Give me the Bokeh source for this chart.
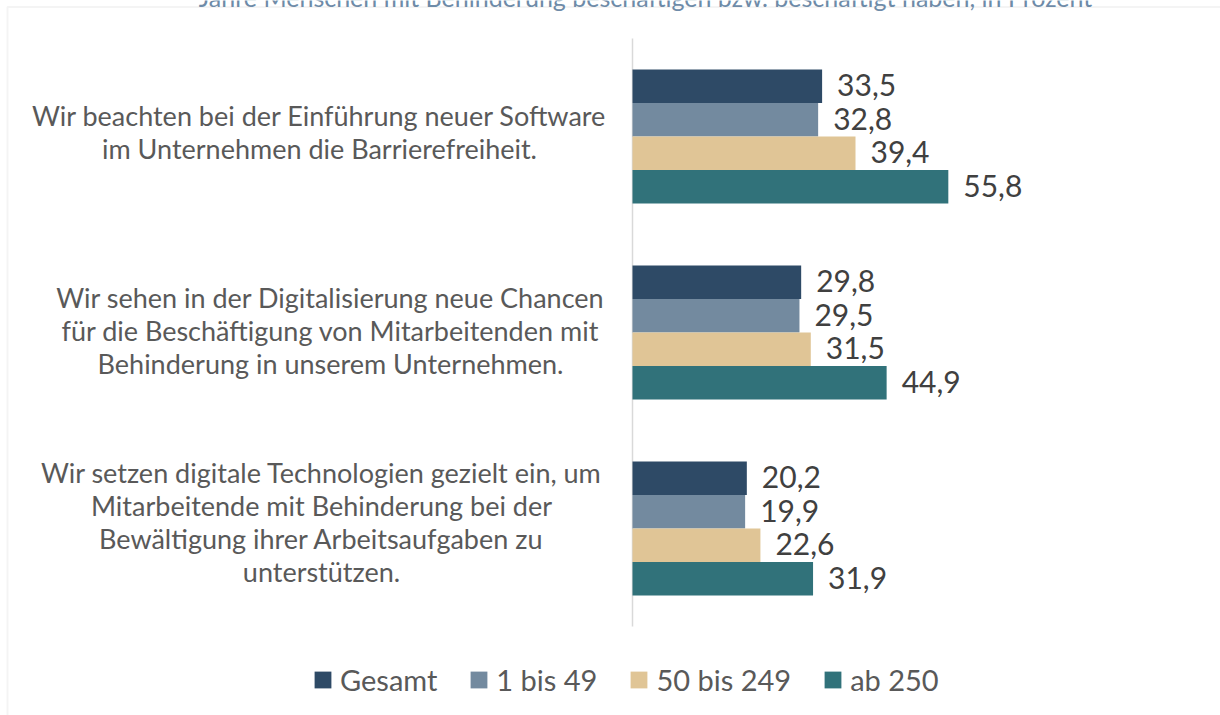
from bokeh.plotting import figure
from bokeh.models import (Range1d, ColumnDataSource, LabelSet, Label, Legend,
                          LegendItem, BoxAnnotation)
from bokeh.embed import file_html
from bokeh.resources import INLINE
from bokeh.core.properties import value

# ---------------- data ----------------
categories = [
    "Wir beachten bei der Einführung neuer Software\nim Unternehmen die Barrierefreiheit.",
    "Wir sehen in der Digitalisierung neue Chancen\nfür die Beschäftigung von Mitarbeitenden mit\nBehinderung in unserem Unternehmen.",
    "Wir setzen digitale Technologien gezielt ein, um\nMitarbeitende mit Behinderung bei der\nBewältigung ihrer Arbeitsaufgaben zu\nunterstützen.",
]
series_names = ["Gesamt", "1 bis 49", "50 bis 249", "ab 250"]
gesamt = [33.5, 29.8, 20.2]
bis_49 = [32.8, 29.5, 19.9]
bis_249 = [39.4, 31.5, 22.6]
ab_250 = [55.8, 44.9, 31.9]
title_text = "Jahre Menschen mit Behinderung beschäftigen bzw. beschäftigt haben, in Prozent"

# ---------------- style / layout ----------------
W, H = 1220, 715
colors = ["#2E4A66", "#738A9F", "#E0C596", "#31727A"]
FONT = "Lato"
PX_PER_UNIT = 5.66      # horizontal scale
ZERO_X = 632            # canvas x of value 0
BAND = 196              # px per category band
TOP_PAD, BOTTOM_PAD = 38, 89
offsets = [0.2565, 0.0855, -0.0855, -0.2565]
bar_h = 0.171
label_cx = [319, 330, 321]
label_dy = [5, 2.5, 7]

n = len(categories)
p = figure(width=W, height=H, output_backend="svg", toolbar_location=None,
           x_axis_location=None, y_axis_location=None,
           x_range=Range1d(-ZERO_X / PX_PER_UNIT, (W - ZERO_X) / PX_PER_UNIT),
           y_range=Range1d(-BOTTOM_PAD / BAND, n + TOP_PAD / BAND),
           min_border=0, outline_line_color=None)
p.xgrid.visible = False
p.ygrid.visible = False

# value axis line (category axis at x = 0)
p.segment(x0=[0], y0=[0], x1=[0], y1=[n], line_color="#D9D9D9", line_width=1.5)

centers = [n - 0.5 - i for i in range(n)]
series = [gesamt, bis_49, bis_249, ab_250]

items = []
for name, vals, col, off in zip(series_names, series, colors, offsets):
    src = ColumnDataSource(dict(
        y=[c + off for c in centers], v=vals,
        lbl=[f"{v:.1f}".replace(".", ",") for v in vals]))
    r = p.hbar(y="y", left=0, right="v", height=bar_h, source=src,
               fill_color=col, line_color=None)
    p.add_layout(LabelSet(x="v", y="y", text="lbl", source=src, x_offset=15,
                          y_offset=1, text_baseline="middle",
                          text_font=value(FONT), text_font_size="30px",
                          text_color="#404040"))
    items.append(LegendItem(label=name, renderers=[r]))

for cat, c, cx, dy in zip(categories, centers, label_cx, label_dy):
    p.add_layout(Label(x=cx, y=c, x_units="canvas", y_units="data", text=cat,
                       y_offset=dy, text_align="center", text_baseline="middle",
                       text_font=FONT, text_font_size="27px",
                       text_line_height=1.0, text_color="#595959"))

legend = Legend(items=items, orientation="horizontal", location=(312, 18),
                glyph_width=21, glyph_height=21, label_standoff=7, spacing=31,
                padding=0, margin=0, border_line_color=None,
                background_fill_alpha=0, label_text_font=FONT,
                label_text_font_size="29px", label_text_color="#595959")
p.add_layout(legend, "center")

p.add_layout(BoxAnnotation(left=7, right=1250, top=6.5, bottom=760,
                           left_units="canvas", right_units="canvas",
                           top_units="canvas", bottom_units="canvas",
                           fill_alpha=0, line_color="#D9D9D9", line_width=2))

p.add_layout(Label(x=645, y=-4, x_units="canvas", y_units="canvas", text=title_text,
                   text_align="center", text_baseline="alphabetic",
                   text_font=FONT, text_font_size="25px",
                   text_color="#6E8BA8"))

open("out.html", "w").write(file_html(p, INLINE))
